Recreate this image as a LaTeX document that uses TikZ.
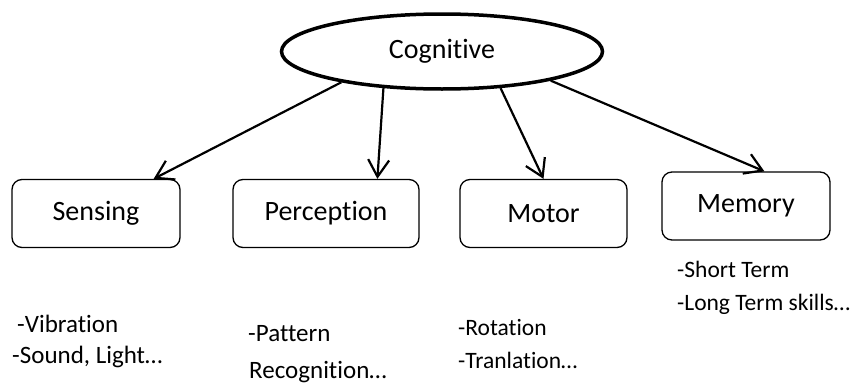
\documentclass[tikz,border=0pt]{standalone}
\usepackage{fontspec}
\setmainfont{Carlito}[Ligatures=NoCommon]
\usetikzlibrary{arrows.meta,shapes.geometric}

\tikzset{
    catbox/.style={draw, line width=1.3pt, rounded corners=10pt, minimum height=68pt,
        inner sep=0pt, font=\fontsize{28}{30}\selectfont},
    listline/.style={anchor=base west, inner sep=0pt, font=\fontsize{25}{27}\selectfont},
    link/.style={line width=2.2pt, -{Straight Barb[length=17pt,width=21pt]}}
}

\begin{document}
\begin{tikzpicture}[x=1pt,y=-1pt]
        \useasboundingbox (0,0) rectangle (854,383);
        \node[draw, ellipse, line width=3.5pt, minimum width=321pt, minimum height=75pt,
            inner sep=0pt, font=\fontsize{28}{30}\selectfont] (cog) at (442,51.5) {Cognitive};
        \node[catbox, minimum width=168pt] (sens) at (96,213.5) {Sensing};
        \node[catbox, minimum width=186pt] (perc) at (326,213.5) {Perception};
        \node[catbox, minimum width=167pt] (mot) at (543.5,213.5) {Motor};
        \node[catbox, minimum width=168pt] (mem) at (746,206) {Memory};
        \foreach \nm/\x/\y/\txt in {vibr/17/332/-Vibration, sound/12/363/{-Sound, Light…},
                patt/248/341/-Pattern, recog/249/378/Recognition…}
            \node[listline] (\nm) at (\x,\y) {\txt};
        \foreach \nm/\x/\y/\txt in {rot/458/335/-Rotation, tran/458/368/-Tranlation…,
                short/677/277/-Short Term, long/677/310/-Long Term skills…}
            \node[listline, font=\fontsize{23.5}{25}\selectfont] (\nm) at (\x,\y) {\txt};
        \draw[link] (cog.197.6) -- (sens.31.6);
        \draw[link] (cog.212.5) -- (perc.34.8);
        \draw[link] (cog.328.3) -- (mot.north);
        \draw[link] (cog.345.7) -- (mem.62);
    \end{tikzpicture}
\end{document}
